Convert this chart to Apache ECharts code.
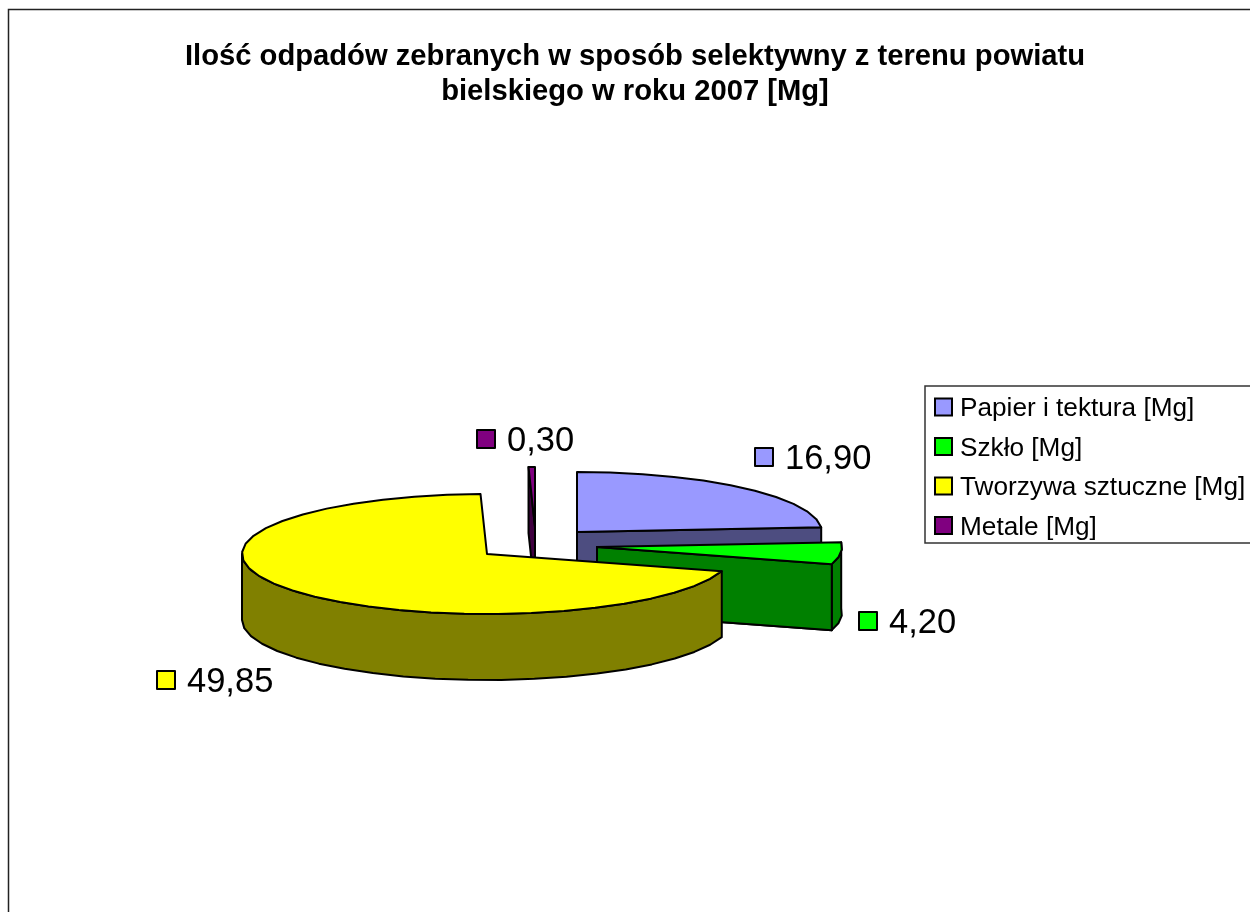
<!DOCTYPE html>
<html><head><meta charset="utf-8">
<style>html,body{margin:0;padding:0;background:#fff}#c{width:1250px;height:912px}</style>
<script src="https://cdn.jsdelivr.net/npm/echarts@6/dist/echarts.min.js"></script>
</head><body><div id="c"></div>
<script>
const categories = ['Papier i tektura [Mg]', 'Szkło [Mg]', 'Tworzywa sztuczne [Mg]', 'Metale [Mg]'];
const values = [16.90, 4.20, 49.85, 0.30];
const chartTitle = 'Ilość odpadów zebranych w sposób selektywny z terenu powiatu\nbielskiego w roku 2007 [Mg]';

const topColors = ['#9999FF', '#00FF00', '#FFFF00', '#800080'];
const wallColors = ['#4D4D80', '#008000', '#808000', '#400040'];
// Layout of each exploded slice
const centers = [[577, 532], [597, 547], [487, 554], [535, 527]];
const keyPos = [[755, 448], [859, 612], [157, 671], [477, 430]];
const drawOrder = [2, 3, 4, 1];
const RX = 245, RY = 60, DEPTH = 66, STEP = 8;
const total = values.reduce((a, b) => a + b, 0);
const startAngle = i => values.slice(0, i).reduce((a, b) => a + b, 0) / total * 360;
const stroke = { stroke: '#000', lineWidth: 2, lineJoin: 'round' };

function rim(c, a, dy) {
  const r = a * Math.PI / 180;
  return [c[0] + RX * Math.sin(r), c[1] - RY * Math.cos(r) + (dy || 0)];
}
function arc(c, a0, a1, dy) {
  const pts = [];
  const n = Math.max(1, Math.ceil((a1 - a0) / STEP));
  for (let k = 0; k <= n; k++) pts.push(rim(c, a0 + (a1 - a0) * k / n, dy));
  return pts;
}
function poly(points, fill, z2) {
  return { type: 'polygon', z2, silent: true, shape: { points }, style: Object.assign({ fill }, stroke) };
}
function renderSlice(i) {
  return function (params, api) {
    const v = api.value(0);
    const c = centers[i], a0 = startAngle(i), a1 = a0 + v / total * 360;
    const z = drawOrder[i] * 10;
    const children = [];
    if (i === 0 || i === 1) {
      const p = rim(c, a1);
      children.push(poly([c, p, [p[0], p[1] + DEPTH], [c[0], c[1] + DEPTH]], wallColors[i], z));
    }
    if (i === 3) {
      const p = rim(c, a0);
      children.push(poly([p, c, [c[0], c[1] + DEPTH], [p[0], p[1] + DEPTH]], wallColors[i], z));
    }
    if (i === 1 || i === 2) {
      const b0 = a0, b1 = Math.min(a1, 270);
      children.push(poly(arc(c, b0, b1).concat(arc(c, b0, b1, DEPTH).reverse()), wallColors[i], z + 1));
      if (i === 1) {
        const p = rim(c, a1);
        children.push(poly([c, p, [p[0], p[1] + DEPTH], [c[0], c[1] + DEPTH]], wallColors[i], z + 1));
      }
    }
    children.push(poly([c].concat(arc(c, a0, a1)), topColors[i], z + 2));
    const k = keyPos[i];
    children.push({ type: 'rect', z2: 100, silent: true, shape: { x: k[0], y: k[1], width: 18, height: 18 },
      style: Object.assign({ fill: topColors[i] }, stroke) });
    children.push({ type: 'text', z2: 100, silent: true, x: k[0] + 30, y: k[1] + 11,
      style: { text: v.toFixed(2).replace('.', ','), fill: '#000', fontFamily: 'Liberation Sans', fontSize: 34.5,
        align: 'left', verticalAlign: 'middle' } });
    return { type: 'group', children };
  };
}

const chart = echarts.init(document.getElementById('c'), null, { renderer: 'canvas' });
chart.setOption({
  animation: false,
  backgroundColor: '#fff',
  title: {
    text: chartTitle, left: 630, top: 34, textAlign: 'center',
    textStyle: { fontFamily: 'Liberation Sans', fontWeight: 'bold', fontSize: 29.2, lineHeight: 35, color: '#000' }
  },
  legend: {
    orient: 'vertical', left: 925, top: 386, icon: 'rect',
    padding: [10, 60, 2.5, 9],
    itemWidth: 17, itemHeight: 17, itemGap: 13.5,
    backgroundColor: '#fff', borderColor: '#333', borderWidth: 1.5,
    selectedMode: false,
    itemStyle: { borderColor: '#000', borderWidth: 2 },
    formatter: '{a|{name}}',
    textStyle: {
      color: '#000',
      rich: { a: { fontFamily: 'Liberation Sans', fontSize: 26.2, color: '#000', padding: [4, 0, 0, 3] } }
    },
    data: categories
  },
  graphic: [{
    type: 'rect', silent: true, z: -1,
    shape: { x: 8.5, y: 9.5, width: 1400, height: 1100 },
    style: { fill: '#fff', stroke: '#222', lineWidth: 1.5 }
  }],
  series: categories.map((name, i) => ({
    type: 'custom', name, coordinateSystem: 'none', silent: true,
    itemStyle: { color: topColors[i] },
    renderItem: renderSlice(i),
    data: [[values[i]]]
  }))
});
</script></body></html>
